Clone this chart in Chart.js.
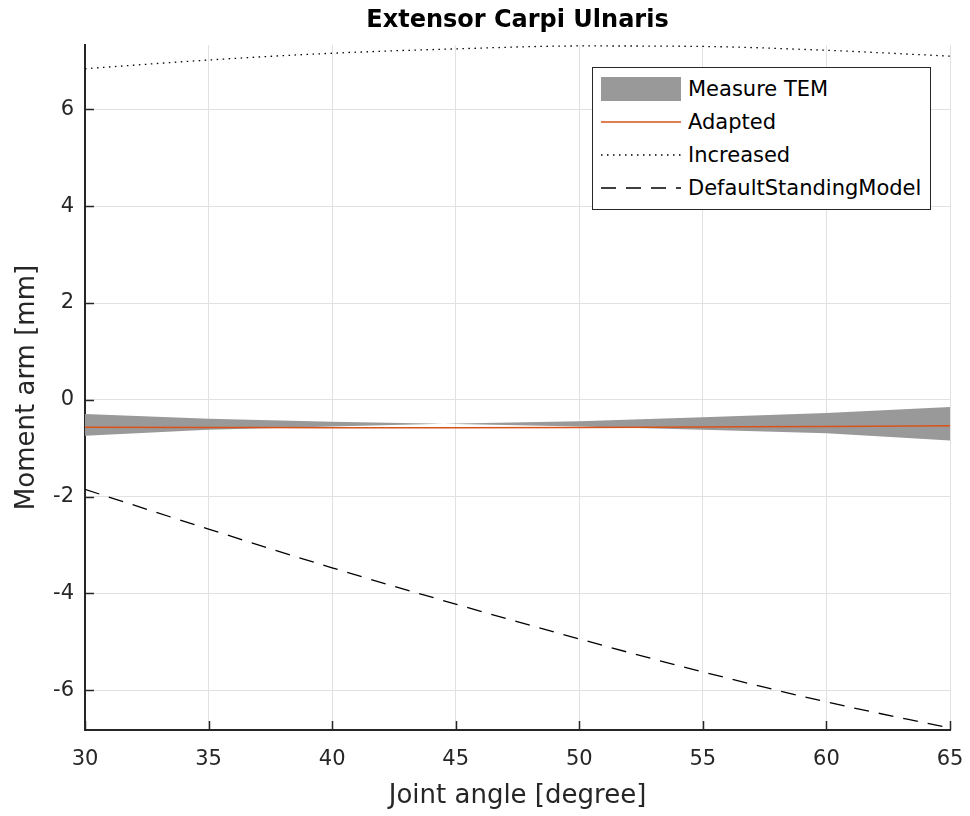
<!DOCTYPE html>
<html>
<head>
<meta charset="utf-8">
<script src="https://cdn.jsdelivr.net/npm/chart.js@4.4.1/dist/chart.umd.min.js"></script>
<style>
  body { margin: 0; background: #fff; }
  #wrap { position: relative; width: 970px; height: 816px; }
  #title {
    position: absolute; left: 85px; top: 0; width: 865px; height: 38px; line-height: 38px;
    text-align: center; font-family: "DejaVu Sans", sans-serif; font-size: 24px; font-weight: bold; color: #000;
  }
  #legend {
    position: absolute; left: 592px; top: 67px; width: 337px; height: 137px;
    border: 1px solid #262626; background: #fff; box-sizing: content-box;
    font-family: "DejaVu Sans", sans-serif; font-size: 21px; color: #000;
    padding-top: 4px;
  }
  #legend .row { display: flex; align-items: center; height: 33px; }
  #legend .sample { width: 80px; height: 24px; margin-left: 8px; margin-right: 7px; display: flex; align-items: center; }
</style>
</head>
<body>
<div id="wrap">
  <canvas id="mychart" width="970" height="816"></canvas>
  <div id="title">Extensor Carpi Ulnaris</div>
  <div id="legend"></div>
</div>
<script>
// 関節角度 [degree]
var angles = [30, 35, 40, 45, 50, 55, 60, 65];
// モーメントアーム [mm]
var adapted = [-0.565, -0.57, -0.575, -0.575, -0.57, -0.56, -0.55, -0.535];
var increased = [6.84, 7.02, 7.16, 7.25, 7.31, 7.30, 7.22, 7.10];
var defaultStanding = [-1.85, -2.67, -3.47, -4.22, -4.94, -5.62, -6.24, -6.78];
// TEM の帯（上限・下限）
var temAngles = [30, 35, 40, 44.5, 50, 55, 60, 65];
var temUpper = [-0.29, -0.39, -0.45, -0.495, -0.44, -0.36, -0.27, -0.15];
var temLower = [-0.74, -0.62, -0.55, -0.495, -0.55, -0.62, -0.69, -0.84];
// 目盛
var xTicks = [30, 35, 40, 45, 50, 55, 60, 65];
var yTicks = [-6, -4, -2, 0, 2, 4, 6];

var FONT = '"DejaVu Sans", sans-serif';
var AXIS = '#262626';

function pts(xs, ys) {
  return xs.map(function(x, i) { return {x: x, y: ys[i]}; });
}

// 内向きの目盛線
var innerTicks = {
  id: 'innerTicks',
  afterDraw: function(chart) {
    var c = chart.ctx, a = chart.chartArea, sx = chart.scales.x, sy = chart.scales.y;
    c.save();
    c.strokeStyle = AXIS;
    c.lineWidth = 1.5;
    c.beginPath();
    sx.ticks.forEach(function(t) {
      var px = Math.round(sx.getPixelForValue(t.value)) + 0.5;
      c.moveTo(px, a.bottom);
      c.lineTo(px, a.bottom - 9);
    });
    sy.ticks.forEach(function(t) {
      var py = Math.round(sy.getPixelForValue(t.value)) + 0.5;
      c.moveTo(a.left, py);
      c.lineTo(a.left + 9, py);
    });
    c.stroke();
    c.restore();
  }
};

var ctx = document.getElementById('mychart');
var myChart = new Chart(ctx, {
  type: 'line',
  data: {
    datasets: [{
      label: 'Adapted',
      data: pts(angles, adapted),
      borderColor: '#D95319',
      borderWidth: 1.5,
      cubicInterpolationMode: 'monotone',
    }, {
      label: 'Increased',
      data: pts(angles, increased),
      borderColor: '#000',
      borderWidth: 1.3,
      borderDash: [1.5, 4.5],
      cubicInterpolationMode: 'monotone',
    }, {
      label: 'DefaultStandingModel',
      data: pts(angles, defaultStanding),
      borderColor: '#000',
      borderWidth: 1.3,
      borderDash: [15, 10],
      cubicInterpolationMode: 'monotone',
    }, {
      label: 'Measure TEM',
      data: pts(temAngles, temUpper),
      borderColor: 'rgba(0,0,0,0)',
      borderWidth: 0,
      backgroundColor: '#999999',
      fill: '+1',
    }, {
      label: 'TEM lower',
      data: pts(temAngles, temLower),
      borderColor: 'rgba(0,0,0,0)',
      borderWidth: 0,
      fill: false,
    }],
  },
  options: {
    responsive: false,
    animation: false,
    elements: { point: { radius: 0 } },
    layout: { padding: { top: 45, right: 20 } },
    plugins: {
      legend: { display: false },
      tooltip: { enabled: false },
      title: { display: false },
    },
    scales: {
      x: {
        type: 'linear',
        min: 30,
        max: 65,
        afterBuildTicks: function(s) { s.ticks = xTicks.map(function(v) { return {value: v}; }); },
        afterFit: function(s) { s.height = 86; s.paddingLeft = 0; s.paddingRight = 0; },
        grid: { color: '#e1e1e1', drawTicks: false },
        border: { color: AXIS, width: 2 },
        ticks: { color: AXIS, font: { family: FONT, size: 21 }, padding: 17, maxRotation: 0 },
        title: {
          display: true,
          text: 'Joint angle [degree]',
          color: AXIS,
          font: { family: FONT, size: 26 },
          padding: { top: 0, bottom: 4 },
        },
      },
      y: {
        min: -6.82,
        max: 7.33,
        afterBuildTicks: function(s) { s.ticks = yTicks.map(function(v) { return {value: v}; }); },
        afterFit: function(s) { s.width = 85; s.paddingTop = 0; s.paddingBottom = 0; },
        grid: { color: '#e1e1e1', drawTicks: false },
        border: { color: AXIS, width: 2 },
        ticks: {
          color: AXIS,
          font: { family: FONT, size: 21 },
          padding: 11,
          callback: function(v) { return String(v); },
        },
        title: {
          display: true,
          text: 'Moment arm [mm]',
          color: AXIS,
          font: { family: FONT, size: 26 },
          padding: { top: 12, bottom: 0 },
        },
      },
    },
  },
  plugins: [innerTicks],
});

// 凡例（プロット内右上の枠付き）
var legendItems = [
  { name: 'Measure TEM', kind: 'patch', color: '#999999' },
  { name: 'Adapted', kind: 'line', color: '#D95319', dash: '' },
  { name: 'Increased', kind: 'line', color: '#000', dash: '1.5 4.5' },
  { name: 'DefaultStandingModel', kind: 'line', color: '#000', dash: '15 10' },
];
var legend = document.getElementById('legend');
legendItems.forEach(function(item) {
  var row = document.createElement('div');
  row.className = 'row';
  var sample = document.createElement('div');
  sample.className = 'sample';
  if (item.kind === 'patch') {
    sample.innerHTML = '<div style="width:80px;height:24px;background:' + item.color + '"></div>';
  } else {
    sample.innerHTML = '<svg width="80" height="4"><line x1="0" y1="2" x2="80" y2="2" stroke="' + item.color +
      '" stroke-width="1.3"' + (item.dash ? ' stroke-dasharray="' + item.dash + '"' : '') + '/></svg>';
  }
  var label = document.createElement('span');
  label.textContent = item.name;
  row.appendChild(sample);
  row.appendChild(label);
  legend.appendChild(row);
});
</script>
</body>
</html>
